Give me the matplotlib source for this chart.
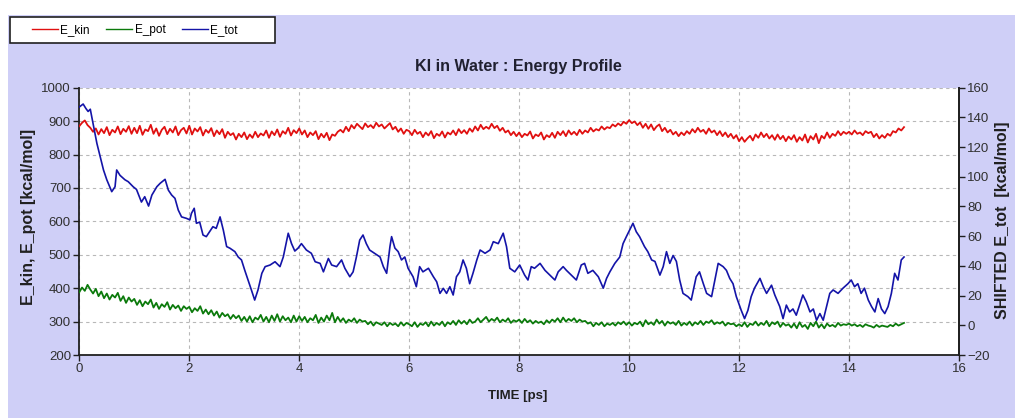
import numpy as np
import matplotlib
matplotlib.use("Agg")
import matplotlib.pyplot as plt
from matplotlib.patches import Rectangle
from matplotlib.lines import Line2D

plt.rcParams['font.family'] = ['Liberation Sans Narrow', 'Liberation Sans', 'DejaVu Sans']

# ---------------- data ----------------
title = "KI in Water : Energy Profile"
x_label = "TIME [ps]"
y_label_left = "E_kin, E_pot [kcal/mol]"
y_label_right = "SHIFTED E_tot  [kcal/mol]"
series_names = ["E_kin", "E_pot", "E_tot"]

x_ticks = [0, 2, 4, 6, 8, 10, 12, 14, 16]
y_ticks_left = [200, 300, 400, 500, 600, 700, 800, 900, 1000]
y_ticks_right = [-20, 0, 20, 40, 60, 80, 100, 120, 140, 160]

dt = 0.05  # ps between samples of E_kin / E_pot

e_kin = [
    885, 895, 902, 888, 880, 868, 878, 860, 876, 864, 882, 858, 874, 866, 884, 861, 877, 868, 885, 862,
    880, 864, 886, 859, 875, 870, 889, 862, 878, 856, 874, 883, 861, 877, 866, 884, 858, 873, 880, 863,
    886, 860, 878, 869, 882, 857, 874, 865, 879, 855, 872, 861, 876, 850, 868, 858, 864, 845, 862, 852,
    866, 846, 860, 850, 868, 852, 863, 857, 872, 850, 869, 858, 875, 853, 870, 862, 880, 857, 873, 864,
    878, 860, 872, 852, 866, 858, 870, 846, 862, 851, 865, 843, 860, 856, 868, 874, 866, 883, 870, 888,
    878, 892, 884, 876, 893, 882, 888, 879, 895, 884, 890, 878, 886, 894, 875, 883, 868, 878, 862, 874,
    870, 858, 874, 862, 868, 852, 866, 857, 870, 849, 862, 856, 869, 851, 866, 860, 872, 858, 876, 864,
    873, 862, 878, 868, 884, 872, 889, 876, 883, 877, 892, 879, 886, 871, 880, 866, 872, 858, 868, 855,
    866, 852, 862, 857, 869, 848, 860, 855, 866, 845, 858, 852, 865, 850, 868, 858, 870, 855, 872, 860,
    868, 858, 874, 862, 872, 866, 880, 869, 876, 872, 884, 875, 882, 879, 890, 884, 893, 887, 898, 892,
    903, 894, 899, 888, 896, 880, 892, 877, 890, 873, 884, 890, 870, 880, 866, 874, 860, 868, 855, 866,
    858, 870, 862, 876, 866, 880, 868, 874, 862, 878, 866, 872, 858, 870, 855, 866, 852, 862, 848, 858,
    840, 852, 838, 848, 856, 842, 860, 850, 866, 852, 862, 848, 858, 844, 860, 846, 856, 840, 854, 845,
    858, 838, 852, 842, 860, 836, 855, 845, 862, 834, 856, 848, 866, 850, 862, 856, 870, 858, 868, 862,
    868, 860, 872, 862, 866, 858, 870, 864, 868, 852, 862, 848, 858, 850, 862, 856, 870, 866, 878, 872,
    882,
]

e_pot = [
    388, 402, 392, 410, 396, 384, 398, 376, 390, 370, 384, 366, 380, 372, 386, 362, 376, 356, 372, 360,
    368, 350, 364, 346, 360, 352, 366, 342, 356, 338, 352, 344, 358, 336, 350, 340, 348, 332, 346, 338,
    344, 328, 340, 332, 346, 324, 336, 322, 334, 318, 330, 312, 326, 316, 322, 308, 320, 310, 318, 302,
    314, 300, 316, 298, 312, 306, 320, 300, 314, 298, 318, 302, 322, 300, 316, 304, 312, 298, 318, 300,
    316, 302, 314, 298, 310, 304, 320, 296, 312, 300, 318, 304, 326, 298, 314, 300, 310, 296, 306, 300,
    310, 296, 306, 300, 302, 292, 300, 288, 298, 294, 290, 298, 286, 296, 290, 294, 286, 298, 288, 296,
    292, 286, 298, 284, 294, 290, 298, 286, 300, 288, 296, 290, 300, 286, 298, 292, 302, 290, 304, 294,
    302, 292, 306, 296, 300, 310, 298, 306, 314, 300, 308, 302, 312, 298, 306, 300, 310, 296, 304, 300,
    306, 296, 308, 298, 304, 294, 302, 296, 300, 292, 304, 296, 306, 300, 310, 298, 312, 300, 308, 302,
    310, 298, 306, 300, 302, 294, 298, 286, 296, 290, 298, 286, 294, 290, 296, 288, 298, 292, 300, 290,
    298, 288, 296, 292, 300, 286, 304, 292, 298, 290, 306, 294, 302, 288, 300, 294, 298, 290, 302, 288,
    296, 290, 300, 288, 298, 292, 302, 290, 300, 296, 304, 292, 298, 294, 300, 288, 296, 292, 294, 286,
    292, 286, 298, 284, 294, 290, 300, 288, 296, 290, 302, 286, 298, 292, 300, 284, 296, 288, 292, 282,
    294, 280, 298, 284, 290, 278, 296, 286, 300, 282, 292, 280, 294, 286, 290, 284, 296, 288, 292, 290,
    294, 288, 292, 286, 290, 284, 292, 288, 286, 282, 290, 284, 288, 286, 284, 290, 286, 294, 288, 292,
    296,
]

t_tot = [
    0, 0.07, 0.12, 0.16, 0.2, 0.25, 0.32, 0.38, 0.44, 0.5,
    0.59, 0.65, 0.68, 0.74, 0.83, 0.89, 0.98, 1.04, 1.13, 1.19,
    1.26, 1.32, 1.41, 1.47, 1.56, 1.62, 1.68, 1.74, 1.8, 1.86,
    1.95, 2.01, 2.04, 2.09, 2.13, 2.19, 2.25, 2.31, 2.37, 2.43,
    2.49, 2.56, 2.62, 2.68, 2.74, 2.83, 2.89, 2.95, 3.01, 3.07,
    3.13, 3.19, 3.25, 3.32, 3.38, 3.47, 3.56, 3.65, 3.71, 3.8,
    3.86, 3.92, 3.98, 4.04, 4.13, 4.22, 4.29, 4.38, 4.44, 4.53,
    4.59, 4.68, 4.77, 4.83, 4.92, 4.98, 5.04, 5.1, 5.16, 5.22,
    5.28, 5.37, 5.47, 5.53, 5.59, 5.65, 5.68, 5.74, 5.8, 5.86,
    5.92, 5.98, 6.07, 6.13, 6.19, 6.25, 6.35, 6.44, 6.5, 6.56,
    6.62, 6.68, 6.74, 6.8, 6.86, 6.92, 6.98, 7.04, 7.1, 7.16,
    7.23, 7.29, 7.38, 7.47, 7.53, 7.62, 7.71, 7.77, 7.83, 7.92,
    8.01, 8.1, 8.16, 8.22, 8.28, 8.38, 8.47, 8.56, 8.65, 8.71,
    8.8, 8.86, 8.95, 9.04, 9.13, 9.19, 9.25, 9.34, 9.44, 9.53,
    9.59, 9.65, 9.74, 9.83, 9.89, 9.95, 10.07, 10.13, 10.19, 10.28,
    10.34, 10.41, 10.47, 10.56, 10.62, 10.68, 10.74, 10.8, 10.86, 10.92,
    10.98, 11.07, 11.13, 11.22, 11.28, 11.35, 11.41, 11.5, 11.56, 11.62,
    11.71, 11.77, 11.83, 11.89, 11.95, 12.04, 12.1, 12.16, 12.22, 12.28,
    12.38, 12.44, 12.5, 12.59, 12.65, 12.74, 12.8, 12.86, 12.92, 12.98,
    13.04, 13.1, 13.16, 13.22, 13.29, 13.35, 13.41, 13.47, 13.53, 13.59,
    13.65, 13.71, 13.8, 13.89, 13.98, 14.04, 14.1, 14.16, 14.22, 14.28,
    14.35, 14.41, 14.47, 14.53, 14.59, 14.65, 14.71, 14.77, 14.83, 14.89,
    14.95, 15.0,
]

e_tot_shifted = [
    147, 149, 146, 144, 145.5, 136, 122.5, 113.5, 104.6, 98,
    90, 93.3, 104.6, 101, 98, 96.7, 93.3, 91.5, 83, 86.6,
    80.3, 87.7, 93.3, 95.6, 98.3, 91, 87.7, 85.5, 77.6, 73,
    72, 71, 75.4, 78.8, 68.7, 69.5, 60.8, 59.7, 63, 66.4,
    65.3, 73, 64, 53, 51.9, 49.6, 46, 44, 37, 30.5,
    23.8, 17, 23.8, 35, 39.5, 40.6, 42.8, 39.5, 46, 62,
    55, 50, 52, 55, 50.7, 48.5, 42.8, 41.7, 36, 45,
    40.6, 39.5, 44, 38.4, 32.7, 36, 46, 57.4, 60.8, 55,
    50.7, 48.5, 46, 39.5, 35, 53, 59.7, 52, 49.6, 44,
    46, 38.4, 32.7, 26, 39.5, 36, 38.4, 32.7, 29.3, 21.5,
    24.9, 21.5, 26, 20.4, 32.7, 36, 44, 38.4, 28, 35,
    44, 50.7, 48.5, 50.7, 56.3, 55, 62, 53, 38.4, 36,
    40.6, 33.8, 30.5, 39.5, 38.4, 41.7, 37, 33.8, 30.5, 36,
    39.5, 37, 33.8, 30.5, 40.6, 41.7, 35, 37, 32.7, 25,
    31.6, 36, 41.7, 46, 55, 59.7, 68.7, 63, 59.7, 53,
    49.6, 44, 43, 33.8, 39.5, 49.6, 41.7, 47, 43, 30.5,
    21.5, 19.3, 17, 32.7, 36, 28, 21.5, 19.3, 30.5, 41.7,
    39.5, 37, 31.6, 28, 19.3, 10, 4.5, 10, 19.3, 25,
    31.6, 26, 21.5, 27, 20.4, 12.6, 4.5, 13.6, 9, 11,
    6.8, 13.6, 20.4, 16, 9, 11, 3.4, 7.9, 3.4, 12.6,
    21.5, 23.8, 21.5, 25, 28, 30.5, 26, 28, 21.5, 25,
    17, 12.6, 9, 18, 11, 7.9, 12.6, 21.5, 35, 30.5,
    44, 46,
]

t_kin = np.arange(len(e_kin)) * dt
t_pot = np.arange(len(e_pot)) * dt

# ---------------- style ----------------
c_kin = "#E01010"
c_pot = "#0B7A0B"
c_tot = "#1414A8"
bg = "#CFCFF7"
W, H = 1015, 420

fig = plt.figure(figsize=(W / 100, H / 100), dpi=100, facecolor="white")
fig.patches.append(Rectangle((8 / W, 2 / H), 1 - 8 / W, 1 - 17 / H, transform=fig.transFigure,
                             facecolor=bg, edgecolor="none", zorder=-10))

ax = fig.add_axes([79.3 / W, 65 / H, (959 - 79.3) / W, (355 - 87.7) / H])
ax.set_facecolor("white")
ax2 = ax.twinx()

ax.plot(t_pot, e_pot, color=c_pot, lw=1.3, zorder=3)
ax.plot(t_kin, e_kin, color=c_kin, lw=1.3, zorder=3)
ax2.plot(t_tot, e_tot_shifted, color=c_tot, lw=1.2, zorder=3)

ax.set_xlim(0, 16)
ax.set_ylim(200, 1000)
ax2.set_ylim(-20, 160)
ax.set_xticks(x_ticks)
ax.set_yticks(y_ticks_left)
ax2.set_yticks(y_ticks_right)

ax.grid(True, color="#B8B8B8", linestyle=(0, (3, 3)), lw=0.8)
ax.set_axisbelow(True)

for a in (ax, ax2):
    a.spines["top"].set_visible(False)
    for s in ("left", "bottom", "right"):
        a.spines[s].set_color("#202020")
        a.spines[s].set_linewidth(1.3)
ax2.spines["left"].set_visible(False)
ax2.spines["bottom"].set_visible(False)

ax.tick_params(axis="both", direction="out", length=4, width=1, colors="#202020",
               labelsize=9.5, labelcolor="#303030", pad=2)
ax2.tick_params(axis="y", direction="out", length=4, width=1, colors="#202020",
                labelsize=9.5, labelcolor="#303030", pad=2)

fig.text(518 / W, 1 - 66 / H, title, ha="center", va="center", fontsize=11.5, fontweight="bold",
         color="#202030")
fig.text(518 / W, 1 - 396 / H, x_label, ha="center", va="center", fontsize=9.5, fontweight="bold",
         color="#202020")
fig.text(29 / W, 1 - 217 / H, y_label_left, ha="center", va="center", rotation=90, fontsize=11.5,
         fontweight="bold", color="#202020")
fig.text(1002 / W, 1 - 220 / H, y_label_right, ha="center", va="center", rotation=90, fontsize=11.5,
         fontweight="bold", color="#202020")

# legend box
fig.patches.append(Rectangle((10 / W, 1 - 43 / H), 265 / W, 26 / H, transform=fig.transFigure,
                             facecolor="white", edgecolor="#202020", lw=1.2, zorder=5))
handles = [Line2D([], [], color=c, lw=1.0) for c in (c_kin, c_pot, c_tot)]
fig.legend(handles, series_names, loc="center left", bbox_to_anchor=(32 / W, 1 - 30 / H),
           ncol=3, frameon=False, fontsize=8.5, handlelength=2.2, handletextpad=0.2,
           columnspacing=1.4, borderaxespad=0, borderpad=0)

fig.savefig("out.png", dpi=100, facecolor="white")
